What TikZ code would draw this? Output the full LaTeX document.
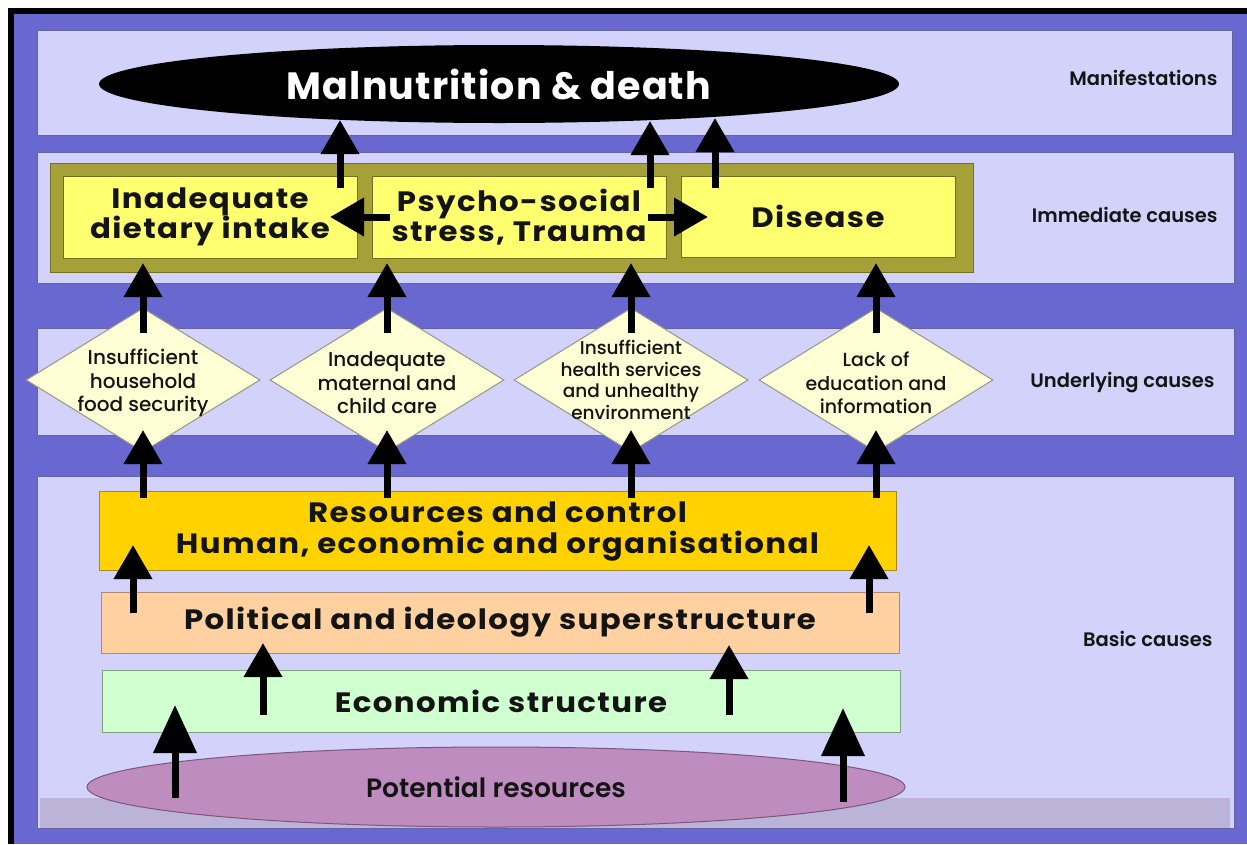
\documentclass[tikz,border=0pt]{standalone}
\usepackage{fontspec}
\setmainfont{Poppins}
\newfontfamily\medfont{Poppins Medium}
\newfontfamily\semifont{Poppins SemiBold}
\newfontfamily\widebold{Poppins Bold}[FakeStretch=1.1, LetterSpace=5]
\usetikzlibrary{shapes.geometric,arrows.meta}

\definecolor{bgblue}{RGB}{104,104,208}
\definecolor{bandfill}{RGB}{210,210,250}
\definecolor{bandline}{RGB}{100,100,165}
\definecolor{olive}{RGB}{165,160,55}
\definecolor{oliveline}{RGB}{115,112,35}
\definecolor{boxyellow}{RGB}{255,255,112}
\definecolor{diafill}{RGB}{255,255,214}
\definecolor{dialine}{RGB}{150,150,135}
\definecolor{gold}{RGB}{255,210,0}
\definecolor{goldline}{RGB}{165,135,40}
\definecolor{peach}{RGB}{255,208,160}
\definecolor{peachline}{RGB}{170,140,120}
\definecolor{mint}{RGB}{208,255,208}
\definecolor{mintline}{RGB}{130,160,130}
\definecolor{mauve}{RGB}{190,140,190}
\definecolor{mauveline}{RGB}{125,85,125}
\definecolor{strip}{RGB}{188,180,216}
\definecolor{ink}{RGB}{20,20,20}

\begin{document}
\begin{tikzpicture}[x=1pt,y=-1pt,
  band/.style={rectangle, draw=bandline, line width=1pt, fill=bandfill, inner sep=0pt},
  bandlabel/.style={anchor=base east, text=ink, font=\semifont\fontsize{19.5}{22}\selectfont},
  causebox/.style={rectangle, draw=oliveline, line width=1pt, fill=boxyellow, inner sep=0pt,
    align=center, text=ink, font=\widebold\fontsize{28}{30}\selectfont},
  basebox/.style={rectangle, line width=1pt, inner sep=0pt, align=center, text=ink,
    font=\widebold\fontsize{28}{31}\selectfont},
  diabox/.style={diamond, draw=dialine, line width=1pt, fill=diafill, inner sep=0pt,
    minimum width=234pt, minimum height=144pt},
  diatext/.style={align=center, text=ink, font=\medfont\fontsize{20}{23.5}\selectfont},
  upar/.style={line width=7pt, -{Triangle[width=37pt,length=34pt]}},
  bigar/.style={line width=7pt, -{Triangle[width=42pt,length=48pt]}}
]
\useasboundingbox (0,0) rectangle (1247,844);

% frame and background
\fill[black] (8,8) rectangle (1247,844);
\fill[bgblue] (14,14) rectangle (1247,844);

% horizontal bands
\node[band, minimum width=1195pt, minimum height=105pt] (bandM) at (634.5,82.5) {};
\node[band, minimum width=1197pt, minimum height=131pt] (bandI) at (635.5,217.5) {};
\node[band, minimum width=1197pt, minimum height=107pt] (bandU) at (635.5,381.5) {};
\node[band, minimum width=1197pt, minimum height=352pt] (bandB) at (635.5,652) {};
\fill[strip] (40,798) rectangle (1230,828);

\node[bandlabel] (lblM) at (1221,85) {Manifestations};
\node[bandlabel] (lblI) at (1221,222) {Immediate causes};
\node[bandlabel] (lblU) at (1218,387) {Underlying causes};
\node[bandlabel] (lblB) at (1216,646) {Basic causes};

% manifestation
\node[ellipse, fill=black, inner sep=0pt, minimum width=800pt, minimum height=78pt,
  text=white, font=\bfseries\fontsize{38}{40}\selectfont\addfontfeatures{LetterSpace=3}] (mal) at (499,84)
  {Malnutrition \& death};

% immediate causes
\node[rectangle, draw=oliveline, line width=1pt, fill=olive, minimum width=923pt,
  minimum height=109pt, inner sep=0pt] (frame) at (511.5,217.5) {};
\node[causebox, minimum width=294pt, minimum height=82pt] (diet) at (210,217) {Inadequate\\dietary intake};
\node[causebox, minimum width=294pt, minimum height=82pt] (stress) at (519,217) {Psycho-social\\stress, Trauma};
\node[causebox, minimum width=274pt, minimum height=81pt] (disease) at (818,216.5) {Disease};

% underlying causes
\node[diabox] (food) at (143,380) {};
\node[diabox] (care) at (387,380) {};
\node[diabox] (health) at (631,380) {};
\node[diabox] (educ) at (876,380) {};
\node[diatext] (foodtxt) at (143,383) {Insufficient\\household\\food security};
\node[diatext] (caretxt) at (387,383) {Inadequate\\maternal and\\child care};
\node[diatext, font=\medfont\fontsize{18.5}{21.5}\selectfont] (healthtxt) at (631,380)
  {Insufficient\\health services\\and unhealthy\\environment};
\node[diatext, font=\medfont\fontsize{19}{23.5}\selectfont] (eductxt) at (876,383) {Lack of\\education and\\information};

% basic causes
\node[basebox, draw=goldline, fill=gold, minimum width=797pt, minimum height=79pt] (res) at (497.5,531)
  {Resources and control\\Human, economic and organisational};
\node[basebox, draw=peachline, fill=peach, minimum width=798pt, minimum height=61pt] (pol) at (500,622.5)
  {Political and ideology superstructure};
\node[basebox, draw=mintline, fill=mint, minimum width=798pt, minimum height=62pt] (eco) at (501,701)
  {Economic structure};
\node[ellipse, draw=mauveline, line width=1pt, fill=mauve, inner sep=0pt, minimum width=818pt,
  minimum height=80pt, text=ink, font=\semifont\fontsize{26.5}{30}\selectfont] (pot) at (496,787)
  {Potential resources};

% arrow end points
\coordinate (dietOut) at (340,188);   \coordinate (malInA) at (340,120);
\coordinate (stressOut) at (650,188); \coordinate (malInB) at (650,121);
\coordinate (diseaseOut) at (715,188);\coordinate (malInC) at (715,118);
\coordinate (stressL) at (390,217);   \coordinate (dietIn) at (330,217);
\coordinate (stressR) at (648,217);   \coordinate (diseaseIn) at (708,217);

\coordinate (foodOut) at (143,333);   \coordinate (dietInB) at (143,263);
\coordinate (careOut) at (387,333);   \coordinate (stressInB) at (387,263);
\coordinate (healthOut) at (631,333); \coordinate (stressInC) at (631,263);
\coordinate (educOut) at (876,333);   \coordinate (diseaseInB) at (876,263);

\coordinate (resA) at (143,498); \coordinate (foodIn) at (143,430);
\coordinate (resB) at (387,498); \coordinate (careIn) at (387,430);
\coordinate (resC) at (631,498); \coordinate (healthIn) at (631,430);
\coordinate (resD) at (876,498); \coordinate (educIn) at (876,430);

\coordinate (polA) at (133,613); \coordinate (resInA) at (133,545);
\coordinate (polB) at (869,613); \coordinate (resInB) at (869,545);
\coordinate (ecoA) at (263,715); \coordinate (polInA) at (263,643);
\coordinate (ecoB) at (729,715); \coordinate (polInB) at (729,645);
\coordinate (potA) at (175,798); \coordinate (ecoInA) at (175,705);
\coordinate (potB) at (843,802); \coordinate (ecoInB) at (843,708);

% connectors
\draw[upar] (dietOut) -- (malInA);
\draw[upar] (stressOut) -- (malInB);
\draw[upar] (diseaseOut) -- (malInC);
\draw[upar] (stressL) -- (dietIn);
\draw[upar] (stressR) -- (diseaseIn);

\draw[upar] (foodOut) -- (dietInB);
\draw[upar] (careOut) -- (stressInB);
\draw[upar] (healthOut) -- (stressInC);
\draw[upar] (educOut) -- (diseaseInB);

\draw[upar] (resA) -- (foodIn);
\draw[upar] (resB) -- (careIn);
\draw[upar] (resC) -- (healthIn);
\draw[upar] (resD) -- (educIn);

\draw[upar] (polA) -- (resInA);
\draw[upar] (polB) -- (resInB);
\draw[upar] (ecoA) -- (polInA);
\draw[upar] (ecoB) -- (polInB);
\draw[bigar] (potA) -- (ecoInA);
\draw[bigar] (potB) -- (ecoInB);
\end{tikzpicture}
\end{document}
